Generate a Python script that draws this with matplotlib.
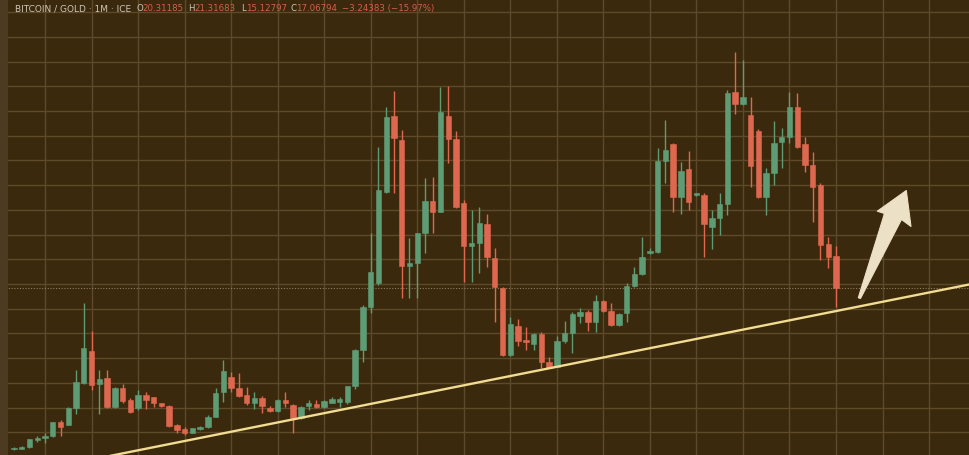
import matplotlib
matplotlib.use("Agg")
import matplotlib.pyplot as plt
from matplotlib.patches import Polygon, Rectangle
import numpy as np

# ---------------- data (BITCOIN / GOLD, monthly) ----------------
opens = [0.78, 0.84, 0.98, 1.69, 1.95, 2.12, 3.51, 3.24, 4.93, 7.52,
         10.75, 7.36, 7.96, 5.03, 6.95, 5.77, 4.93, 6.27, 6.04, 5.43,
         5.16, 3.24, 2.80, 2.46, 2.80, 3.00, 4.02, 6.55, 8.06, 7.01,
         6.27, 5.49, 5.94, 4.99, 4.65, 5.77, 5.26, 3.92, 5.16, 5.36,
         5.03, 5.49, 5.59, 5.59, 7.18, 10.83, 15.21, 17.63, 26.84, 34.50,
         32.07, 19.32, 19.66, 22.63, 25.90, 24.82, 34.50, 32.14, 25.67, 21.35,
         21.68, 23.57, 20.16, 17.13, 10.29, 13.28, 11.84, 11.43, 12.44, 9.64,
         9.14, 11.77, 12.58, 14.27, 14.70, 13.69, 15.81, 14.80, 13.35, 14.60,
         17.30, 18.48, 20.61, 20.71, 29.98, 31.67, 26.27, 29.11, 26.51, 26.51,
         23.24, 24.15, 25.57, 36.90, 35.71, 34.60, 33.01, 26.34, 28.70, 31.90,
         32.41, 35.44, 31.67, 29.54, 27.52, 21.55, 20.31]
highs = [1.06, 1.11, 1.87, 2.12, 2.40, 3.57, 3.74, 5.09, 8.80, 15.61,
         12.78, 8.80, 8.80, 7.11, 7.39, 5.94, 6.78, 6.61, 6.10, 5.51,
         5.26, 3.34, 3.00, 2.98, 3.14, 4.25, 6.95, 9.81, 8.63, 8.47,
         7.11, 6.55, 6.17, 5.16, 5.84, 6.61, 5.36, 5.16, 5.77, 5.77,
         5.77, 6.10, 6.10, 7.23, 10.93, 15.38, 22.66, 31.36, 35.44, 37.06,
         33.08, 22.13, 22.66, 28.20, 28.30, 37.47, 37.54, 33.01, 26.00, 24.99,
         25.32, 24.59, 21.12, 17.20, 14.16, 13.93, 13.18, 12.52, 12.68, 10.15,
         12.24, 13.76, 14.70, 15.04, 14.87, 16.39, 15.88, 15.61, 14.57, 17.57,
         19.25, 22.29, 21.15, 31.23, 34.10, 31.77, 29.88, 30.99, 26.76, 26.68,
         24.99, 26.68, 37.13, 41.01, 40.17, 36.39, 33.16, 29.21, 33.99, 33.26,
         36.96, 36.86, 32.41, 30.89, 27.69, 22.29, 21.32]
lows = [0.71, 0.76, 0.91, 1.55, 1.39, 2.05, 2.15, 3.19, 4.35, 7.39,
        6.78, 4.35, 4.93, 4.93, 5.46, 4.50, 4.76, 4.83, 5.09, 5.09,
        3.00, 2.46, 2.23, 2.40, 2.73, 2.98, 4.00, 5.53, 6.61, 6.10,
        5.26, 4.83, 4.42, 4.58, 4.58, 5.03, 2.40, 3.81, 4.76, 4.93,
        4.96, 5.43, 5.03, 5.36, 6.85, 9.64, 14.57, 17.40, 26.68, 26.68,
        16.06, 16.06, 16.06, 20.61, 22.63, 24.74, 29.71, 25.24, 17.74, 17.74,
        18.59, 19.25, 13.69, 10.22, 10.22, 11.23, 10.83, 10.83, 8.97, 8.97,
        9.08, 11.50, 10.55, 13.53, 12.75, 12.68, 14.72, 13.28, 13.28, 13.69,
        17.20, 18.41, 20.54, 20.64, 27.69, 24.82, 24.59, 24.99, 26.41, 20.27,
        21.01, 22.46, 24.48, 34.70, 35.61, 27.35, 26.17, 24.48, 27.52, 29.21,
        31.74, 31.23, 28.86, 23.81, 19.93, 19.09, 15.13]
closes = [0.94, 1.01, 1.79, 1.95, 2.15, 3.51, 3.07, 4.99, 7.56, 11.00,
          7.28, 7.89, 5.09, 6.95, 5.70, 4.58, 6.27, 5.77, 5.43, 5.16,
          3.14, 2.73, 2.46, 2.90, 3.07, 4.08, 6.51, 8.70, 7.01, 6.17,
          5.49, 5.94, 5.16, 4.65, 5.77, 5.43, 3.92, 5.03, 5.43, 5.03,
          5.70, 5.87, 5.87, 7.18, 10.83, 15.21, 18.75, 27.01, 34.43, 32.25,
          19.32, 19.66, 22.63, 25.90, 24.82, 34.94, 32.14, 25.32, 21.35, 21.68,
          23.64, 20.27, 17.23, 10.29, 13.43, 11.74, 11.60, 12.44, 9.58, 9.04,
          11.77, 12.58, 14.44, 14.70, 13.69, 15.81, 14.80, 13.35, 14.47, 17.30,
          18.48, 20.27, 20.84, 29.98, 31.06, 26.27, 28.97, 25.83, 26.66, 23.54,
          24.15, 25.60, 36.80, 35.71, 36.45, 29.44, 26.34, 28.70, 31.80, 32.41,
          35.44, 31.39, 29.54, 27.35, 21.45, 20.20, 17.07]

header_label = "BITCOIN / GOLD · 1M · ICE"
header_fields = [("O", "20.31185"), ("H", "21.31683"), ("L", "15.12797"), ("C", "17.06794")]
header_change = "−3.24383 (−15.97%)"
last_close = 17.06794

# hand-drawn support trend line (candle index, price)
trend_x = [12.38, 123.28]
trend_y = [0.11, 17.47]

# ---------------- style ----------------
BG = "#3a290c"
GRID = "#5e4a2a"
UP = "#5e9c76"
DOWN = "#de684f"
TXT = "#cfc6b6"
VAL = "#d2614c"

W, H = 970, 455
fig = plt.figure(figsize=(W / 100, H / 100), dpi=100, facecolor=BG)
ax = fig.add_axes([0, 0, 1, 1])
ax.set_facecolor(BG)

n = len(opens)
x = np.arange(n)
o = np.array(opens); c = np.array(closes)
hi = np.array(highs); lo = np.array(lows)
up = c >= o
cols = np.where(up, UP, DOWN)

xmin, xmax = -1.803, 123.28
ymin, ymax = 0.202, 46.237
ax.set_xlim(xmin, xmax)
ax.set_ylim(ymin, ymax)

# grid
for gy in np.arange(2.5, 46, 2.5):
    ax.axhline(gy, color=GRID, lw=1.0, zorder=1)
for gx in np.arange(4, 124, 6):
    ax.axvline(gx, color=GRID, lw=1.0, zorder=1)

# current price dotted line
ax.axhline(last_close, color="#8f7d5c", lw=0.8, ls=(0, (1, 1.5)), zorder=1.5)

# candles
ax.vlines(x, lo, hi, colors=cols, lw=1.0, zorder=2)
bottom = np.minimum(o, c)
height = np.maximum(np.abs(c - o), 0.13)
ax.bar(x, height, bottom=bottom, width=0.7, color=cols, edgecolor=cols, lw=0.4, zorder=3)

# trend line
ax.plot(trend_x, trend_y, color="#f1dc92", lw=1.7, solid_capstyle="round", zorder=4)

# arrow (pixel outline converted to axes fraction)
arrow_px = [(858.3, 297.7), (884.5, 213.5), (877.3, 211.2), (906.3, 190.5),
            (911.0, 226.5), (901.5, 219.5), (860.5, 298.5)]
arrow_ax = [(px / W, 1 - py / H) for px, py in arrow_px]
ax.add_patch(Polygon(arrow_ax, closed=True, transform=ax.transAxes,
                     facecolor="#ece0c6", edgecolor="#ece0c6", lw=0.8,
                     joinstyle="round", zorder=6))

# left strip
ax.add_patch(Rectangle((0, 0), 8 / W, 1, transform=ax.transAxes,
                       facecolor="#4d3b21", edgecolor="none", zorder=7))

# header text
ty = 1 - 8.6 / H
fs = 6.2
ax.text(15 / W, ty, header_label, transform=ax.transAxes, color=TXT,
        fontsize=6.45, va="center", ha="left", zorder=8)
field_x = [136.5, 188.3, 240.7, 290.7]
for (lab, val), fx in zip(header_fields, field_x):
    ax.text(fx / W, ty, lab, transform=ax.transAxes, color=TXT,
            fontsize=fs, va="center", ha="left", zorder=8)
    ax.text((fx + 5.8) / W, ty, val, transform=ax.transAxes, color=VAL,
            fontsize=fs, va="center", ha="left", zorder=8)
ax.text(341.7 / W, ty, header_change, transform=ax.transAxes, color=VAL,
        fontsize=fs, va="center", ha="left", zorder=8)

ax.axis("off")
fig.savefig("out.png", dpi=100, facecolor=BG)
